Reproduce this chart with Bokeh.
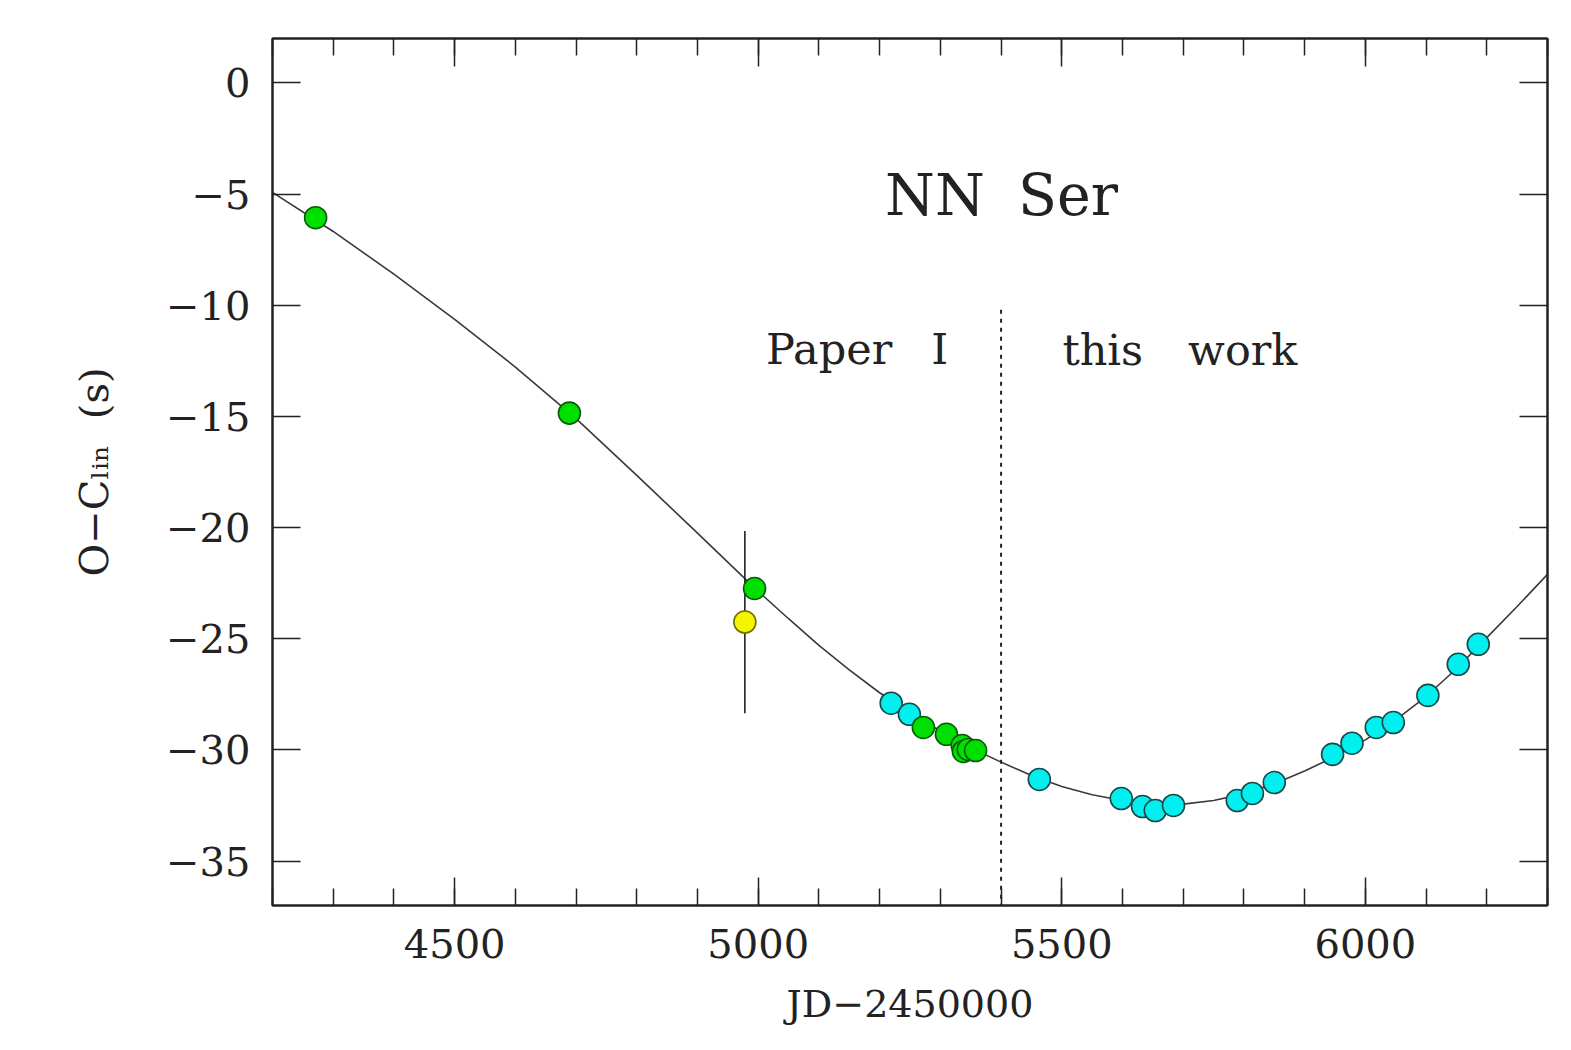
from bokeh.plotting import figure
from bokeh.models import (LinearAxis, SingleIntervalTicker, Label, CustomJSTickFormatter, Range1d)
from bokeh.embed import file_html
from bokeh.resources import INLINE

# ---------------- data ----------------
# Paper I eclipse timings (green)
paper_x = [4271, 4689, 4994, 5272, 5310, 5336, 5338, 5346, 5358]
paper_y = [-6.06, -14.85, -22.74, -28.99, -29.3, -29.8, -30.07, -29.98, -30.03]

# deviant timing with error bar (yellow)
yel_x = [4978]
yel_y = [-24.25]
yel_err = [4.1]

# this work (cyan)
this_x = [5219, 5249, 5463, 5598, 5633, 5654, 5684, 5789, 5814, 5850,
          5946, 5978, 6018, 6046, 6103, 6153, 6186]
this_y = [-27.9, -28.4, -31.33, -32.19, -32.55, -32.73, -32.5, -32.28, -31.96, -31.47,
          -30.2, -29.7, -28.99, -28.77, -27.55, -26.15, -25.25]

# model curve
curve_x = [4200, 4300, 4400, 4500, 4600, 4700, 4800, 4900, 5000, 5050, 5100, 5150,
           5200, 5250, 5300, 5350, 5400, 5450, 5500, 5550, 5600, 5650, 5700, 5750,
           5800, 5850, 5900, 5950, 6000, 6050, 6100, 6150, 6200, 6250, 6300]
curve_y = [-4.92, -6.68, -8.6, -10.63, -12.78, -15.1, -17.65, -20.25, -22.87, -24.1,
           -25.3, -26.4, -27.43, -28.33, -29.15, -29.9, -30.55, -31.15, -31.65, -32.02,
           -32.28, -32.42, -32.44, -32.28, -31.98, -31.52, -30.95, -30.3, -29.55, -28.65,
           -27.6, -26.35, -24.95, -23.55, -22.1]

divider_x = 5400
divider_top = -10.2

x_range = (4200, 6300)
y_range = (-37, 2)

FONT = "DejaVu Serif"
INK = "#222222"

p = figure(width=1571, height=1050, output_backend="svg", toolbar_location=None,
           x_range=Range1d(*x_range), y_range=Range1d(*y_range),
           x_axis_location=None, y_axis_location=None,
           min_border_left=272, min_border_right=24, min_border_top=38,
           min_border_bottom=145)
p.grid.visible = False
p.outline_line_color = INK
p.outline_line_width = 2
p.background_fill_color = "white"
p.border_fill_color = "white"

minus_fmt = CustomJSTickFormatter(code="return tick < 0 ? '\\u2212' + (-tick) : String(tick);")
empty_fmt = CustomJSTickFormatter(code="return '';")


def style_axis(ax, labels):
    ax.axis_line_color = INK
    ax.axis_line_width = 2
    ax.major_tick_line_color = INK
    ax.minor_tick_line_color = INK
    ax.major_tick_line_width = 1.5
    ax.minor_tick_line_width = 1.5
    ax.major_tick_in = 28
    ax.major_tick_out = 0
    ax.minor_tick_in = 17
    ax.minor_tick_out = 0
    if labels:
        ax.major_label_text_font = FONT
        ax.major_label_text_font_size = "40px"
        ax.major_label_text_color = INK
    else:
        ax.major_label_text_font_size = "0px"


xb = LinearAxis(ticker=SingleIntervalTicker(interval=500, num_minor_ticks=5))
style_axis(xb, True)
xb.major_label_standoff = 23
xb.axis_label = "JD\u22122450000"
xb.axis_label_text_font = FONT
xb.axis_label_text_font_size = "38px"
xb.axis_label_text_font_style = "normal"
xb.axis_label_text_color = INK
xb.axis_label_standoff = 21
p.add_layout(xb, "below")

xt = LinearAxis(ticker=SingleIntervalTicker(interval=500, num_minor_ticks=5), formatter=empty_fmt)
style_axis(xt, False)
p.add_layout(xt, "above")

yl = LinearAxis(ticker=SingleIntervalTicker(interval=5, num_minor_ticks=0), formatter=minus_fmt)
style_axis(yl, True)
yl.major_label_standoff = 22
yl.axis_label = "O\u2212C\u2097\u1d62\u2099\u00a0\u00a0(s)"
yl.axis_label_text_font = FONT
yl.axis_label_text_font_size = "40px"
yl.axis_label_text_font_style = "normal"
yl.axis_label_text_color = INK
yl.axis_label_standoff = 46
p.add_layout(yl, "left")

yr = LinearAxis(ticker=SingleIntervalTicker(interval=5, num_minor_ticks=0), formatter=empty_fmt)
style_axis(yr, False)
p.add_layout(yr, "right")

# model curve
p.line(curve_x, curve_y, line_color="#3a3a3a", line_width=1.6)

# divider between Paper I and this work
p.segment(x0=[divider_x], y0=[divider_top], x1=[divider_x], y1=[y_range[0]],
          line_color=INK, line_width=2, line_dash="4 5")

# error bar of the yellow point
p.segment(x0=yel_x, y0=[y - e for y, e in zip(yel_y, yel_err)],
          x1=yel_x, y1=[y + e for y, e in zip(yel_y, yel_err)],
          line_color=INK, line_width=1.6)

p.scatter(this_x, this_y, marker="circle", size=22, fill_color="#00f0f0",
          line_color="#1c4848", line_width=1.6)
p.scatter(paper_x, paper_y, marker="circle", size=22, fill_color="#00e000",
          line_color="#0b5a0b", line_width=1.6)
p.scatter(yel_x, yel_y, marker="circle", size=22, fill_color="#f5f500",
          line_color="#707000", line_width=1.6)


def word(x, y, txt, size):
    p.add_layout(Label(x=x, y=y, text=txt, text_font=FONT, text_font_size=size,
                       text_color=INK, text_baseline="alphabetic", text_align="left"))


word(5209, -5.02, "NN", "57px")
word(5428, -5.02, "Ser", "57px")
word(5013, -11.96, "Paper", "43px")
word(5285, -11.96, "I", "43px")
word(5501, -12.0, "this", "43px")
word(5708, -12.0, "work", "43px")

open("out.html", "w").write(file_html(p, INLINE))
